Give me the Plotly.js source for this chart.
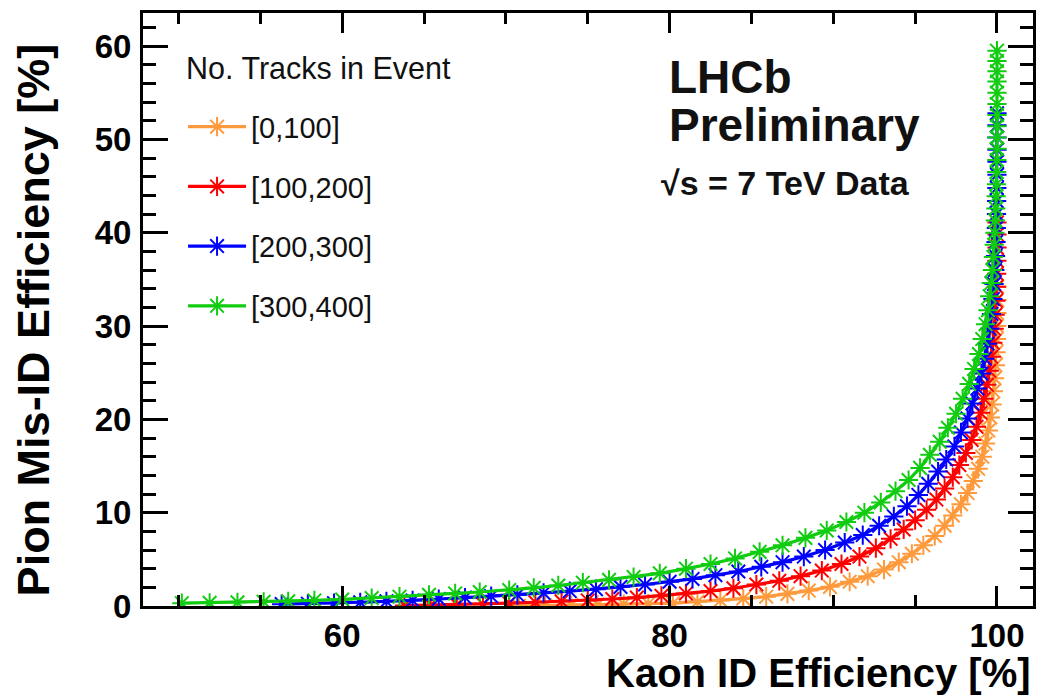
<!DOCTYPE html>
<html>
<head>
<meta charset="utf-8">
<script src="https://cdn.plot.ly/plotly-3.0.1.min.js"></script>
<style>html,body{margin:0;padding:0;background:#fff;}#chart{width:1039px;height:696px;}</style>
</head>
<body>
<div id="chart"></div>
<script>
// Series names (legend)
const legendHeader = "No. Tracks in Event";
const seriesNames = ["[0,100]", "[100,200]", "[200,300]", "[300,400]"];
const seriesColors = ["#ff9a3c", "#ff0000", "#0000ff", "#11cc11"];

// [0,100]
const kaonEff_0_100 = [70.8,72.4,74.0,75.6,77.2,78.7,80.2,81.7,83.1,84.5,85.9,87.2,88.5,89.8,91.0,92.1,93.1,94.0,94.8,95.5,96.2,96.8,97.3,97.8,98.2,98.55,98.85,99.1,99.3,99.47,99.6,99.7,99.78,99.85,99.9,99.94,99.97,99.99,100,100,100];
const pionMisId_0_100 = [0.02,0.05,0.1,0.15,0.2,0.25,0.3,0.45,0.6,0.8,1.0,1.3,1.65,2.05,2.6,3.2,3.9,4.7,5.6,6.5,7.5,8.6,9.7,10.9,12.1,13.4,14.7,16.0,17.4,18.8,20.2,21.6,23.0,24.4,25.8,27.2,28.6,30.0,31.4,32.8,34.2];

// [100,200]
const kaonEff_100_200 = [63.8,65.4,67.0,68.6,70.2,71.8,73.4,75.0,76.5,78.0,79.5,81.0,82.5,83.9,85.3,86.7,88.0,89.3,90.5,91.6,92.6,93.5,94.3,95.0,95.7,96.3,96.8,97.3,97.7,98.1,98.45,98.75,99.0,99.2,99.38,99.53,99.65,99.75,99.83,99.89,99.93,99.96,99.98,99.99,100,100,100];
const pionMisId_100_200 = [0.05,0.1,0.15,0.2,0.3,0.4,0.5,0.6,0.75,0.9,1.1,1.35,1.6,1.9,2.3,2.7,3.2,3.8,4.5,5.3,6.2,7.2,8.2,9.2,10.3,11.4,12.6,13.8,15.1,16.4,17.8,19.2,20.7,22.2,23.7,25.2,26.7,28.2,29.7,31.2,32.7,34.2,35.6,37.0,38.4,39.8,41.1];

// [200,300]
const kaonEff_200_300 = [56.3,57.9,59.5,61.1,62.7,64.3,65.9,67.5,69.1,70.7,72.3,73.9,75.5,77.0,78.5,80.0,81.4,82.8,84.2,85.6,86.9,88.2,89.5,90.7,91.8,92.8,93.7,94.5,95.2,95.8,96.4,96.9,97.4,97.8,98.2,98.5,98.8,99.05,99.25,99.42,99.55,99.66,99.75,99.82,99.87,99.91,99.94,99.96,99.97,99.98,99.99,100,100,100,100,100,100];
const pionMisId_200_300 = [0.2,0.25,0.3,0.4,0.5,0.6,0.75,0.9,1.05,1.2,1.4,1.6,1.8,2.05,2.3,2.6,2.9,3.3,3.7,4.2,4.7,5.3,6.0,6.8,7.6,8.6,9.6,10.7,11.9,13.1,14.4,15.7,17.1,18.6,20.1,21.7,23.3,24.9,26.5,28.1,29.7,31.3,32.9,34.5,36.0,37.5,39.0,40.5,42.0,43.4,44.8,46.2,47.6,48.9,50.2,51.5,52.8];

// [300,400]
const kaonEff_300_400 = [50.2,51.9,53.6,55.2,56.7,58.3,60.0,61.8,63.5,65.3,66.9,68.4,70.2,71.7,73.2,74.7,76.3,77.8,79.4,81.0,82.5,84.0,85.5,86.9,88.3,89.6,90.8,91.9,92.9,93.8,94.6,95.3,95.9,96.5,97.0,97.5,97.9,98.3,98.6,98.9,99.1,99.3,99.45,99.55,99.65,99.72,99.78,99.83,99.87,99.9,99.93,99.95,99.97,99.98,99.99,100,100,100,100,100,100,100,100,100,100];
const pionMisId_300_400 = [0.3,0.35,0.4,0.45,0.5,0.6,0.7,0.85,1.0,1.2,1.35,1.5,1.7,1.95,2.2,2.5,2.8,3.1,3.5,4.0,4.5,5.1,5.8,6.5,7.3,8.1,9.0,10.0,11.1,12.3,13.5,14.8,16.2,17.6,19.1,20.6,22.2,23.8,25.4,27.0,28.6,30.2,31.7,33.2,34.6,36.0,37.4,38.7,40.0,41.3,42.6,43.9,45.2,46.5,47.8,49.0,50.2,51.4,52.6,53.8,55.0,56.2,57.3,58.4,59.5,60.6];

const xs = [kaonEff_0_100, kaonEff_100_200, kaonEff_200_300, kaonEff_300_400];
const ys = [pionMisId_0_100, pionMisId_100_200, pionMisId_200_300, pionMisId_300_400];

const FONT = "Liberation Sans, Arial, Helvetica, sans-serif";

const traces = seriesNames.map((name, i) => ({
  type: "scatter",
  mode: "lines+markers",
  name: name,
  legendgroup: "g" + i,
  x: xs[i],
  y: ys[i],
  line: {color: seriesColors[i], width: 3.2},
  marker: {symbol: "asterisk-open", size: 16, color: seriesColors[i], line: {color: seriesColors[i], width: 2}},
  cliponaxis: true
}));

const axisCommon = {
  showline: true, linecolor: "#000", linewidth: 3, mirror: "allticks",
  ticks: "inside", tickcolor: "#000", tickwidth: 3,
  showgrid: false, zeroline: false,
  tickfont: {family: FONT, size: 33, color: "#000", weight: 700}
};

const layout = {
  width: 1039, height: 696,
  paper_bgcolor: "#fff", plot_bgcolor: "#fff",
  margin: {l: 143, r: 6, t: 13, b: 90},
  showlegend: true,
  xaxis: Object.assign({}, axisCommon, {
    range: [47.83, 102.2], tickvals: [60, 80, 100], ticklen: 20,
    minor: {dtick: 5, tick0: 0, ticklen: 11, tickwidth: 3, tickcolor: "#000", ticks: "inside", showgrid: false},
    ticklabelstandoff: -2
  }),
  yaxis: Object.assign({}, axisCommon, {
    range: [0, 63.54], tickvals: [0, 10, 20, 30, 40, 50, 60], ticklen: 25,
    minor: {dtick: 2, tick0: 0, ticklen: 13, tickwidth: 3, tickcolor: "#000", ticks: "inside", showgrid: false},
    ticklabelstandoff: 2
  }),
  legend: {
    x: 0.045, y: 0.851, xanchor: "left", yanchor: "top",
    bgcolor: "rgba(0,0,0,0)", borderwidth: 0,
    font: {family: FONT, size: 29, color: "#111"},
    tracegroupgap: 19, itemwidth: 58, traceorder: "grouped"
  },
  annotations: [
    {text: legendHeader, xref: "paper", yref: "paper", x: 0.046, y: 0.907, xanchor: "left", yanchor: "middle", showarrow: false,
     font: {family: FONT, size: 30.5, color: "#111"}},
    {text: "Kaon ID Efficiency [%]", xref: "paper", yref: "paper", x: 1.0, y: -0.113, xanchor: "right", yanchor: "middle", showarrow: false,
     font: {family: FONT, size: 40, color: "#000", weight: 700}},
    {text: "Pion Mis-ID Efficiency [%]", xref: "paper", yref: "paper", x: -0.122, y: 0.952, xanchor: "center", yanchor: "top", textangle: -90, showarrow: false,
     font: {family: FONT, size: 45, color: "#000", weight: 700}},
    {text: "LHCb", xref: "paper", yref: "paper", x: 0.589, y: 0.892, xanchor: "left", yanchor: "middle", showarrow: false,
     font: {family: FONT, size: 46, color: "#111", weight: 700}},
    {text: "Preliminary", xref: "paper", yref: "paper", x: 0.589, y: 0.811, xanchor: "left", yanchor: "middle", showarrow: false,
     font: {family: FONT, size: 46, color: "#111", weight: 700}},
    {text: "√s = 7 TeV Data", xref: "paper", yref: "paper", x: 0.58, y: 0.713, xanchor: "left", yanchor: "middle", showarrow: false,
     font: {family: FONT, size: 34, color: "#111", weight: 700}}
  ]
};

Plotly.newPlot("chart", traces, layout, {displayModeBar: false, staticPlot: true});
</script>
</body>
</html>
